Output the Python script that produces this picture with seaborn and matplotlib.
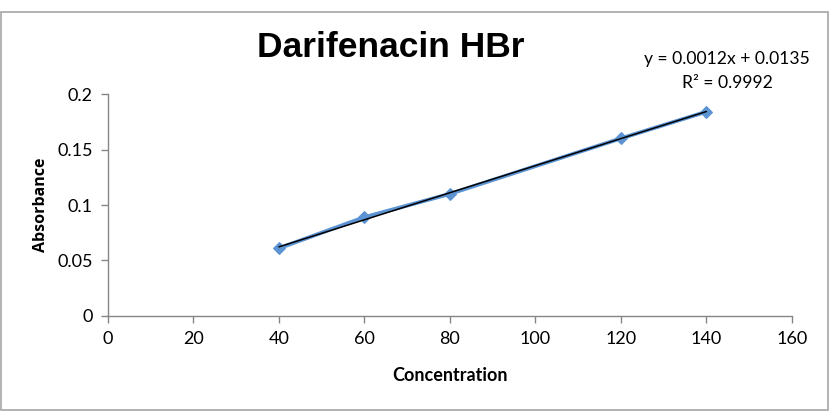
import matplotlib
matplotlib.use('Agg')
from matplotlib import pyplot as plt
import matplotlib.patches as patches
import pandas as pd
import seaborn as sns

concentration = [40, 60, 80, 120, 140]
absorbance = [0.061, 0.089, 0.110, 0.160, 0.184]
x_ticks = [0, 20, 40, 60, 80, 100, 120, 140, 160]
y_ticks = [0, 0.05, 0.1, 0.15, 0.2]
y_tick_labels = ['0', '0.05', '0.1', '0.15', '0.2']

sns.set_style('white')
plt.rcParams['font.family'] = ['Lato', 'DejaVu Sans']
plt.rcParams['text.color'] = 'black'
plt.rcParams['axes.labelcolor'] = 'black'
plt.rcParams['xtick.labelcolor'] = 'black'
plt.rcParams['ytick.labelcolor'] = 'black'

df = pd.DataFrame({'Concentration': concentration, 'Absorbance': absorbance})

fig = plt.figure(figsize=(8.3, 4.16), dpi=100)
ax = fig.add_axes([0.130, 0.2404, 0.824, 0.5336])

sns.lineplot(data=df, x='Concentration', y='Absorbance', ax=ax, color='#5B93D3',
             linewidth=2.8, marker='D', markersize=6.5, markeredgecolor='#5B93D3', zorder=2)
sns.regplot(data=df, x='Concentration', y='Absorbance', ax=ax, scatter=False, ci=None,
            line_kws={'color': 'black', 'linewidth': 1.1, 'zorder': 3})

ax.set_xlim(0, 160)
ax.set_ylim(0, 0.2)
ax.set_xticks(x_ticks)
ax.set_xticklabels([str(t) for t in x_ticks])
ax.set_yticks(y_ticks)
ax.set_yticklabels(y_tick_labels)
ax.tick_params(axis='both', which='major', labelsize=13, length=5, width=1,
               color='#868686', direction='out', pad=6, bottom=True, left=True)

for side in ['top', 'right']:
    ax.spines[side].set_visible(False)
for side in ['left', 'bottom']:
    ax.spines[side].set_color('#868686')
    ax.spines[side].set_linewidth(1)

ax.set_xlabel('Concentration', fontsize=13, fontweight='bold', labelpad=14)
ax.set_ylabel('Absorbance', fontsize=11.5, fontweight='bold', family=['Open Sans', 'DejaVu Sans'], labelpad=6)

fig.text(0.471, 0.885, 'Darifenacin HBr', fontsize=25.5, fontweight='bold',
         family=['Liberation Sans', 'DejaVu Sans'], ha='center', va='center')
fig.text(0.876, 0.858, 'y = 0.0012x + 0.0135', fontsize=12.6, ha='center', va='center')
fig.text(0.876, 0.800, 'R² = 0.9992', fontsize=12.6, ha='center', va='center')

# chart border like the spreadsheet frame
fig.patches.append(patches.Rectangle((0.0008, 0.0144), 0.997, 0.957, transform=fig.transFigure,
                                     fill=False, edgecolor='#A6A6A6', linewidth=1.2))

fig.savefig('out.png', dpi=100)
